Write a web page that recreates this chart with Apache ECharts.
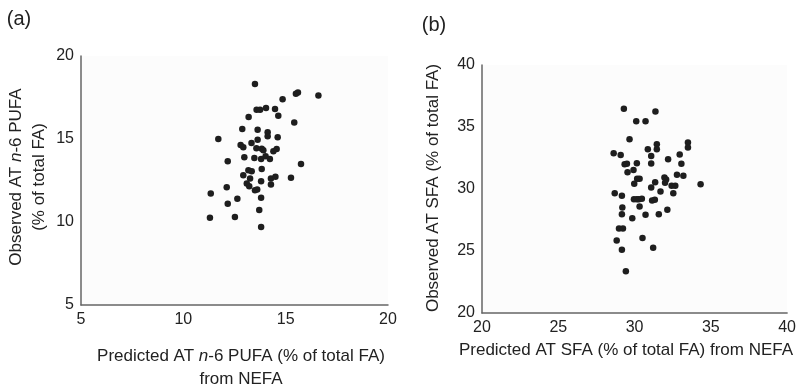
<!DOCTYPE html>
<html>
<head>
<meta charset="utf-8">
<script src="https://cdn.jsdelivr.net/npm/echarts@6/dist/echarts.min.js"></script>
<style>
  html, body { margin: 0; padding: 0; background: #fff; }
  #chart { width: 799px; height: 388px; }
</style>
</head>
<body>
<div id="chart"></div>
<script>
// (a) n-6 PUFA: predicted from NEFA vs observed in AT
const pufaPred = [13.50, 15.50, 15.60, 16.60, 14.85, 13.58, 13.75, 14.04, 14.48, 14.64, 13.19, 15.42, 12.88, 13.63, 14.12, 14.12, 14.61, 11.71, 13.63, 13.33, 12.80, 12.93, 13.57, 13.83, 13.91, 14.56, 14.40, 12.17, 12.98, 13.47, 13.80, 14.02, 14.23, 15.75, 13.18, 13.34, 13.83, 12.93, 13.26, 14.28, 14.50, 15.26, 13.10, 13.22, 13.80, 14.28, 12.12, 13.50, 13.61, 11.34, 13.80, 12.64, 12.17, 13.71, 11.30, 12.52, 13.80];
const pufaObs = [18.32, 17.72, 17.80, 17.62, 17.40, 16.76, 16.76, 16.86, 16.80, 16.40, 16.32, 16.00, 15.60, 15.56, 15.40, 15.16, 15.10, 15.00, 14.96, 14.76, 14.64, 14.50, 14.44, 14.42, 14.32, 14.40, 14.26, 13.66, 13.90, 13.86, 13.80, 13.96, 13.80, 13.50, 13.12, 13.06, 13.20, 12.82, 12.62, 12.62, 12.72, 12.66, 12.32, 12.16, 12.46, 12.26, 12.10, 11.92, 11.96, 11.72, 11.46, 11.40, 11.10, 10.72, 10.26, 10.30, 9.70];

// (b) SFA
const sfaPred = [29.30, 31.37, 30.11, 30.72, 29.67, 33.50, 33.50, 31.46, 31.46, 30.87, 28.63, 29.09, 31.09, 32.96, 32.20, 29.35, 29.50, 30.15, 31.09, 33.07, 29.54, 29.93, 32.78, 33.20, 30.17, 30.33, 29.98, 31.35, 31.96, 32.07, 32.00, 32.43, 32.67, 34.33, 28.70, 29.17, 31.09, 31.70, 32.54, 29.96, 30.15, 30.28, 30.48, 31.15, 31.33, 29.20, 30.33, 32.15, 29.17, 30.72, 31.59, 29.85, 28.98, 29.24, 30.52, 28.83, 31.22, 29.17, 29.43];
const sfaObs = [36.48, 36.24, 35.46, 35.46, 34.01, 33.74, 33.34, 33.61, 33.21, 33.21, 32.89, 32.75, 32.67, 32.78, 32.40, 32.00, 32.03, 32.08, 32.05, 32.03, 31.36, 31.54, 31.14, 31.06, 30.82, 30.82, 30.42, 30.55, 30.93, 30.77, 30.50, 30.26, 30.26, 30.39, 29.66, 29.45, 30.12, 29.80, 29.66, 29.18, 29.18, 29.18, 29.21, 29.07, 29.13, 28.51, 28.59, 28.32, 27.97, 27.92, 27.97, 27.65, 26.82, 26.82, 26.04, 25.85, 25.26, 25.10, 23.36];

const pufaRange = { min: 5, max: 20, interval: 5 };
const sfaRange = { min: 20, max: 40, interval: 5 };

const FONT = '"Liberation Sans", Arial, sans-serif';
const TEXT = '#222';

const chart = echarts.init(document.getElementById('chart'), null, { renderer: 'canvas' });

function axis(gridIndex, range) {
  return {
    type: 'value',
    gridIndex,
    min: range.min,
    max: range.max,
    interval: range.interval,
    axisLine: { show: true, lineStyle: { color: '#666', width: 1.5 } },
    axisTick: { show: false },
    splitLine: { show: false },
    axisLabel: { color: TEXT, fontSize: 16, fontFamily: FONT, margin: 7 }
  };
}

const dots = (xs, ys) => xs.map((x, i) => [x, ys[i]]);

const titleStyle = {
  fill: TEXT,
  fontSize: 17,
  fontFamily: FONT,
  align: 'center',
  verticalAlign: 'middle',
  lineHeight: 23,
  rich: {
    t: { fontSize: 17, fontFamily: FONT, fill: TEXT, lineHeight: 23 },
    i: { fontSize: 17, fontFamily: FONT, fill: TEXT, fontStyle: 'italic', lineHeight: 23 }
  }
};

chart.setOption({
  backgroundColor: '#fff',
  animation: false,
  grid: [
    { left: 81, top: 56, width: 307, height: 249, show: true, backgroundColor: '#fcfcfc', borderWidth: 0 },
    { left: 482, top: 65, width: 308, height: 248, show: true, backgroundColor: '#fcfcfc', borderWidth: 0 }
  ],
  xAxis: [axis(0, pufaRange), axis(1, sfaRange)],
  yAxis: [axis(0, pufaRange), axis(1, sfaRange)],
  series: [
    {
      type: 'scatter', xAxisIndex: 0, yAxisIndex: 0,
      data: dots(pufaPred, pufaObs),
      symbolSize: 6.5,
      itemStyle: { color: '#1e1e1e', opacity: 1 }
    },
    {
      type: 'scatter', xAxisIndex: 1, yAxisIndex: 1,
      data: dots(sfaPred, sfaObs),
      symbolSize: 6.5,
      itemStyle: { color: '#1e1e1e', opacity: 1 }
    }
  ],
  graphic: [
    { type: 'text', x: 19, y: 19, style: { text: '(a)', fill: TEXT, fontSize: 20, fontFamily: FONT, align: 'center', verticalAlign: 'middle' } },
    { type: 'text', x: 434, y: 25, style: { text: '(b)', fill: TEXT, fontSize: 20, fontFamily: FONT, align: 'center', verticalAlign: 'middle' } },
    {
      type: 'text', x: 28, y: 177, rotation: Math.PI / 2,
      style: Object.assign({}, titleStyle, { text: '{t|Observed AT }{i|n}{t|-6 PUFA}\n{t|(% of total FA)}' })
    },
    {
      type: 'text', x: 241, y: 368,
      style: Object.assign({}, titleStyle, { text: '{t|Predicted AT }{i|n}{t|-6 PUFA (% of total FA)}\n{t|from NEFA}' })
    },
    {
      type: 'text', x: 433, y: 188, rotation: Math.PI / 2,
      style: Object.assign({}, titleStyle, { text: 'Observed AT SFA (% of total FA)' })
    },
    {
      type: 'text', x: 626, y: 350,
      style: Object.assign({}, titleStyle, { text: 'Predicted AT SFA (% of total FA) from NEFA' })
    }
  ]
});
</script>
</body>
</html>
